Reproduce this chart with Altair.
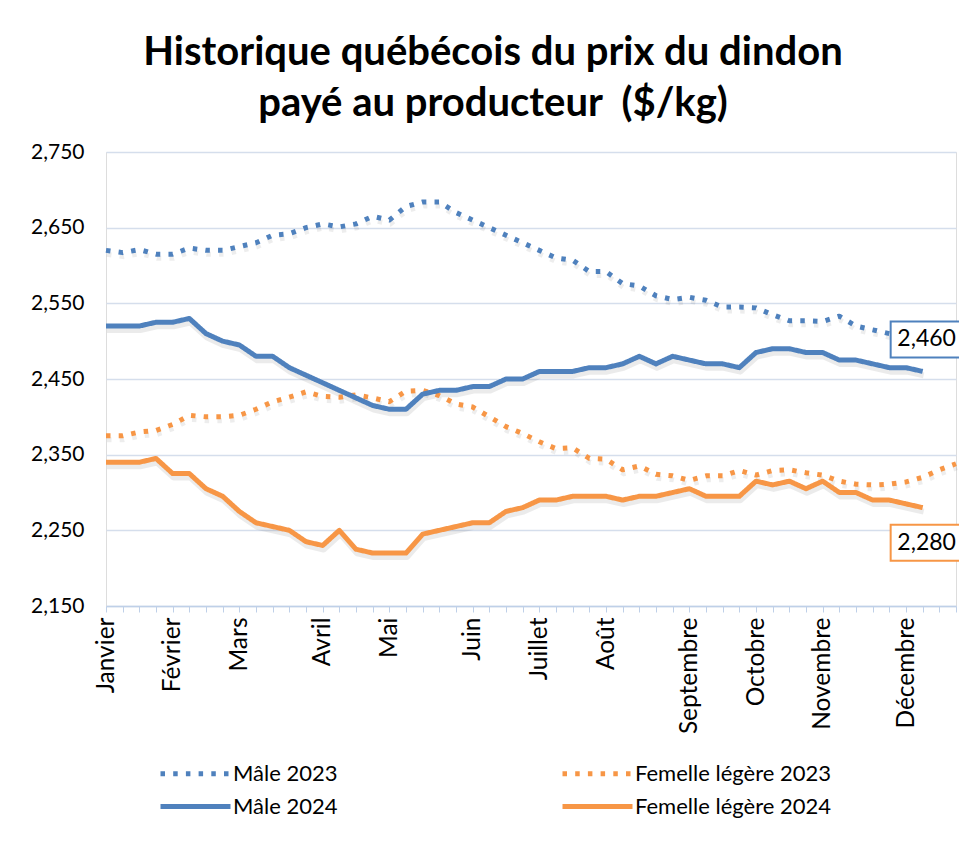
import altair as alt
import pandas as pd

# ---- data (weekly producer prices, $/kg) ----
male_2023 = [2.620, 2.617, 2.621, 2.615, 2.615, 2.623, 2.620, 2.620, 2.625, 2.630,
             2.640, 2.642, 2.650, 2.655, 2.651, 2.655, 2.665, 2.660, 2.678, 2.684,
             2.684, 2.670, 2.660, 2.650, 2.640, 2.630, 2.620, 2.610, 2.607, 2.592,
             2.592, 2.576, 2.573, 2.560, 2.555, 2.558, 2.554, 2.545, 2.545, 2.544,
             2.535, 2.527, 2.527, 2.526, 2.533, 2.520, 2.515, 2.510, 2.505, 2.500,
             2.500, 2.495]
femelle_2023 = [2.375, 2.375, 2.380, 2.382, 2.390, 2.402, 2.400, 2.400, 2.402, 2.410,
                2.420, 2.426, 2.433, 2.427, 2.426, 2.429, 2.425, 2.420, 2.434, 2.435,
                2.428, 2.417, 2.413, 2.400, 2.387, 2.378, 2.367, 2.358, 2.359, 2.345,
                2.344, 2.330, 2.335, 2.324, 2.322, 2.316, 2.322, 2.322, 2.329, 2.323,
                2.329, 2.330, 2.326, 2.323, 2.315, 2.311, 2.310, 2.311, 2.314, 2.320,
                2.330, 2.338]
male_2024 = [2.520, 2.520, 2.520, 2.525, 2.525, 2.530, 2.510, 2.500, 2.495, 2.480,
             2.480, 2.465, 2.455, 2.445, 2.435, 2.425, 2.415, 2.410, 2.410, 2.430,
             2.435, 2.435, 2.440, 2.440, 2.450, 2.450, 2.460, 2.460, 2.460, 2.465,
             2.465, 2.470, 2.480, 2.470, 2.480, 2.475, 2.470, 2.470, 2.465, 2.485,
             2.490, 2.490, 2.485, 2.485, 2.475, 2.475, 2.470, 2.465, 2.465, 2.460]
femelle_2024 = [2.340, 2.340, 2.340, 2.345, 2.325, 2.325, 2.305, 2.295, 2.275, 2.260,
                2.255, 2.250, 2.235, 2.230, 2.250, 2.225, 2.220, 2.220, 2.220, 2.245,
                2.250, 2.255, 2.260, 2.260, 2.275, 2.280, 2.290, 2.290, 2.295, 2.295,
                2.295, 2.290, 2.295, 2.295, 2.300, 2.305, 2.295, 2.295, 2.295, 2.315,
                2.310, 2.315, 2.305, 2.315, 2.300, 2.300, 2.290, 2.290, 2.285, 2.280]

month_names = ["Janvier", "Février", "Mars", "Avril", "Mai", "Juin", "Juillet",
               "Août", "Septembre", "Octobre", "Novembre", "Décembre"]
month_weeks = [0, 4, 8, 13, 17, 22, 26, 30, 35, 39, 43, 48]

y_ticks = [2.15, 2.25, 2.35, 2.45, 2.55, 2.65, 2.75]

series_names = ["Mâle 2023", "Femelle légère 2023", "Mâle 2024", "Femelle légère 2024"]
series_years = [2023, 2023, 2024, 2024]
series_colors = ["#4F81BD", "#F79646", "#4F81BD", "#F79646"]
DOT = [4.5, 8.2]
series_dash = [DOT, DOT, [1, 0], [1, 0]]

FONT = "Lato"

rows = []
for name, year, vals in zip(series_names, series_years,
                            [male_2023, femelle_2023, male_2024, femelle_2024]):
    for i, v in enumerate(vals):
        rows.append({"series": name, "annee": year, "week": i, "prix": v})
df = pd.DataFrame(rows)

# last-value labels
lab = pd.DataFrame({
    "series": ["Mâle 2024", "Femelle légère 2024"],
    "week": [len(male_2024) - 1, len(femelle_2024) - 1],
    "prix": [male_2024[-1], femelle_2024[-1]],
})
lab["texte"] = lab["prix"].map(lambda v: f"{v:.3f}".replace(".", ","))

label_expr = "".join(f"datum.value == {w} ? '{m}' : " for w, m in zip(month_weeks, month_names)) + "''"

x_enc = alt.X("week:Q", scale=alt.Scale(domain=[0, 51], nice=False, zero=False),
              axis=alt.Axis(values=list(range(52)), labelExpr=label_expr, labelAngle=270,
                            labelFontSize=24.5, labelFont=FONT, labelColor="#000000",
                            grid=False, domainColor="#BFD0E8", domainWidth=1.5,
                            tickColor="#BFD0E8", tickSize=6, tickWidth=1,
                            labelPadding=5, labelOverlap=False, labelFlush=False, title=None))
y_enc = alt.Y("prix:Q", scale=alt.Scale(domain=[2.15, 2.75], nice=False, zero=False),
              axis=alt.Axis(values=y_ticks,
                            labelExpr="replace(format(datum.value, '.3f'), '.', ',')",
                            labelFontSize=21, labelFont=FONT, labelColor="#000000",
                            domain=False, ticks=False, labelPadding=22,
                            gridColor="#D5DEEC", gridWidth=1.5, title=None))

color_scale = alt.Scale(domain=series_names, range=series_colors)
dash_scale = alt.Scale(domain=series_names, range=series_dash)

# soft drop shadow under each line
shadow_dot = alt.Chart(df).transform_filter("datum.annee == 2023").mark_line(
    strokeWidth=5, xOffset=1, yOffset=4, color="#000000", opacity=0.07,
    strokeDash=DOT).encode(x=x_enc, y=y_enc, detail="series:N")
shadow_solid = alt.Chart(df).transform_filter("datum.annee == 2024").mark_line(
    strokeWidth=6, xOffset=1, yOffset=4, color="#000000", opacity=0.08,
    strokeJoin="round").encode(x=x_enc, y=y_enc, detail="series:N")

# wide, flat legend symbol: 70 px long line but a small layout box
legend = alt.Legend(title=None, orient="none", direction="horizontal",
                    legendX=78, legendY=610,
                    columns=2, columnPadding=214, rowPadding=10,
                    symbolType="M-4,0H4", symbolSize=306.25,
                    symbolStrokeWidth=5, labelFontSize=22, labelLimit=400,
                    labelFont=FONT, labelColor="#000000",
                    labelOffset=26, padding=0)

lines = alt.Chart(df).mark_line(strokeWidth=5, strokeJoin="round").encode(
    x=x_enc, y=y_enc,
    color=alt.Color("series:N", scale=color_scale, sort=series_names, legend=legend),
    strokeDash=alt.StrokeDash("series:N", scale=dash_scale, sort=series_names, legend=legend),
)

box_path = "M-1,-0.5H1V0.5H-1Z"

def value_label(name, color, offset):
    d = lab[lab["series"] == name]
    box = alt.Chart(d).mark_point(shape=box_path, size=72 * 72, filled=True, fill="#FFFFFF",
                                  stroke=color, strokeWidth=2, opacity=1,
                                  xOffset=4, yOffset=offset).encode(x=x_enc, y=y_enc)
    txt = alt.Chart(d).mark_text(fontSize=23, font=FONT, color="#000000", align="center",
                                 baseline="middle", xOffset=4, yOffset=offset).encode(
        x=x_enc, y=y_enc, text="texte:N")
    return box + txt

chart = alt.layer(
    shadow_dot, shadow_solid, lines,
    value_label("Mâle 2024", "#4F81BD", -32),
    value_label("Femelle légère 2024", "#F79646", 35),
).properties(
    width=850, height=454,
    title=alt.TitleParams(["Historique québécois du prix du dindon",
                           "payé au producteur \u00a0($/kg)"],
                          fontSize=40, font=FONT, fontWeight="bold", lineHeight=51,
                          anchor="middle", dx=-38, offset=17, color="#000000"),
    autosize=alt.AutoSizeParams(type="none"),
    padding={"left": 98, "top": 144, "right": 3, "bottom": 235},
).configure_view(stroke=None).configure(background="#FFFFFF")

chart.save("out.html", embed_options={"renderer": "svg", "actions": False})
